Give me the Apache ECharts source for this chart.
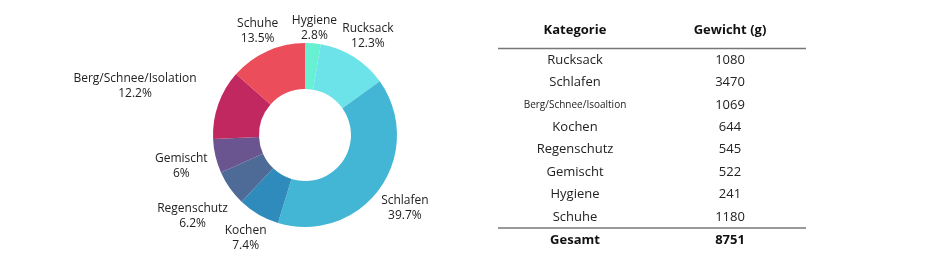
<!DOCTYPE html>
<html>
<head>
<meta charset="utf-8">
<script src="https://cdn.jsdelivr.net/npm/echarts@6/dist/echarts.min.js"></script>
<style>
  html, body { margin: 0; padding: 0; background: #fff; }
  #main { width: 940px; height: 260px; }
</style>
</head>
<body>
<div id="main"></div>
<script>
// Daten (Reihenfolge im Ring, im Uhrzeigersinn ab 12 Uhr)
var pieNames = ['Hygiene', 'Rucksack', 'Schlafen', 'Kochen', 'Regenschutz', 'Gemischt', 'Berg/Schnee/Isolation', 'Schuhe'];
var pieValues = [241, 1080, 3470, 644, 545, 522, 1069, 1180];
var pieColors = ['#68f0d3', '#6be3e9', '#43b6d6', '#2e8bbb', '#4e6b98', '#6a5590', '#c0285f', '#eb4e5a'];

// Tabelle (Reihenfolge wie im Bild)
var tableHeader = ['Kategorie', 'Gewicht (g)'];
var tableNames = ['Rucksack', 'Schlafen', 'Berg/Schnee/Isoaltion', 'Kochen', 'Regenschutz', 'Gemischt', 'Hygiene', 'Schuhe'];
var tableValues = [1080, 3470, 1069, 644, 545, 522, 241, 1180];
var totalLabel = 'Gesamt';

var chart = echarts.init(document.getElementById('main'));
var font = 'Open Sans';
var cx = 305, cy = 135, rOut = 92, rIn = 46;

var pieSum = pieValues.reduce(function (a, b) { return a + b; }, 0);
// Mittelwinkel jedes Segments (im Uhrzeigersinn ab oben), für die Beschriftung
var midAngles = [];
var acc = 0;
pieValues.forEach(function (v) {
  midAngles.push((acc + v / 2) / pieSum * 2 * Math.PI);
  acc += v;
});
// Abstand Beschriftung zum Ring, kleine Winkelkorrektur (Grad)
var labelGap = [0, 0, 3, 2, 8, 6, 22, 1];
var labelTurn = [0, 0, 0, 0, 0, 0, -3, 0];

var pieData = pieNames.map(function (n, i) {
  return { name: n, value: pieValues[i], itemStyle: { color: pieColors[i] } };
});

// Tabelle als graphic-Elemente
var colX = [575, 730];
var rowY0 = 60, rowStep = 22.4;
var els = [];
tableHeader.forEach(function (h, i) {
  els.push({ type: 'text', x: colX[i], y: 30, style: { text: h, font: 'bold 13px ' + font, fill: '#111', align: 'center', verticalAlign: 'middle' } });
});
els.push({ type: 'line', shape: { x1: 498, y1: 48.5, x2: 806, y2: 48.5 }, style: { stroke: '#777', lineWidth: 1.5 } });
tableNames.forEach(function (n, i) {
  var y = rowY0 + i * rowStep;
  var small = n.length > 15;
  els.push({ type: 'text', x: colX[0], y: y, style: { text: n, font: (small ? 10 : 13) + 'px ' + font, fill: '#222', align: 'center', verticalAlign: 'middle' } });
  els.push({ type: 'text', x: colX[1], y: y, style: { text: String(tableValues[i]), font: '13px ' + font, fill: '#222', align: 'center', verticalAlign: 'middle' } });
});
var total = tableValues.reduce(function (a, b) { return a + b; }, 0);
els.push({ type: 'line', shape: { x1: 498, y1: 228, x2: 806, y2: 228 }, style: { stroke: '#777', lineWidth: 1.5 } });
els.push({ type: 'text', x: colX[0], y: 240, style: { text: totalLabel, font: 'bold 13px ' + font, fill: '#111', align: 'center', verticalAlign: 'middle' } });
els.push({ type: 'text', x: colX[1], y: 240, style: { text: String(total), font: 'bold 13px ' + font, fill: '#111', align: 'center', verticalAlign: 'middle' } });

var option = {
  animation: false,
  backgroundColor: '#fff',
  series: [{
    type: 'pie',
    center: [cx, cy],
    radius: [rIn, rOut],
    startAngle: 90,
    clockwise: true,
    data: pieData,
    label: {
      show: true,
      position: 'outside',
      formatter: function (p) {
        return p.name + '\n' + parseFloat((p.value / pieSum * 100).toFixed(1)) + '%';
      },
      fontFamily: font,
      fontSize: 12,
      lineHeight: 15,
      color: '#222'
    },
    labelLine: { show: false, length: 10, length2: 0 },
    labelLayout: function (p) {
      var a = midAngles[p.dataIndex] + labelTurn[p.dataIndex] * Math.PI / 180;
      var s = Math.sin(a), c = Math.cos(a);
      var w = p.labelRect.width, h = p.labelRect.height;
      var r = rOut + labelGap[p.dataIndex] + w / 2 * Math.abs(s) + h / 2 * Math.abs(c);
      return { x: cx + r * s, y: cy - r * c + 1.5, align: 'center', verticalAlign: 'middle' };
    }
  }],
  graphic: els
};
chart.setOption(option);
</script>
</body>
</html>
